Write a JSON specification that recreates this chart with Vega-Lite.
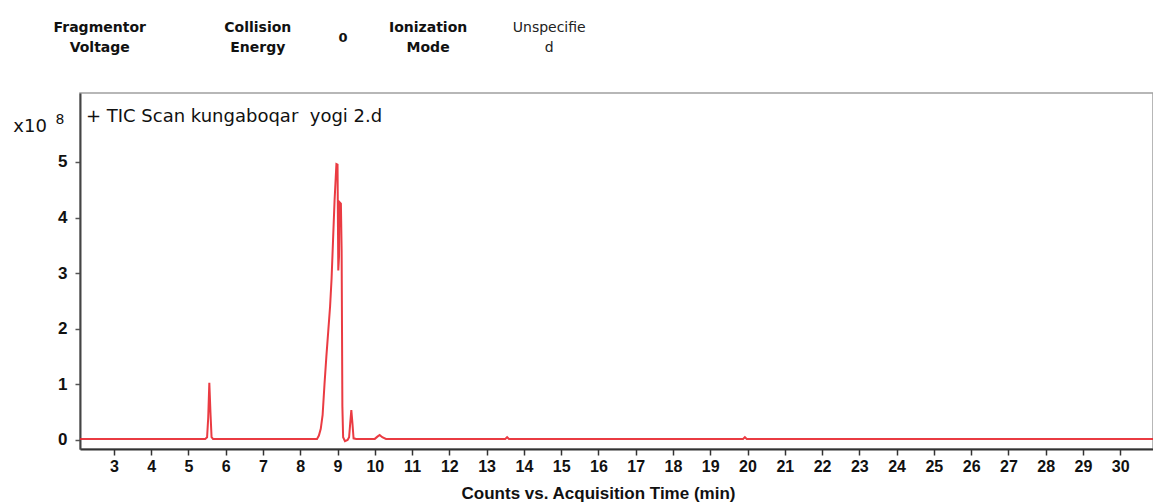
{
  "$schema": "https://vega.github.io/schema/vega-lite/v6.json",
  "width": 1073,
  "height": 356,
  "autosize": {"type": "none"},
  "padding": {"left": 80, "top": 93, "right": 0, "bottom": 54},
  "background": "white",
  "config": {
    "view": {"stroke": "#a0a0a0", "strokeWidth": 1.5},
    "text": {"font": "Liberation Sans"}
  },
  "data": {"values": [
    {"t": 2.09, "v": 0.02}, {"t": 3, "v": 0.02}, {"t": 4, "v": 0.02}, {"t": 5, "v": 0.02},
    {"t": 5.45, "v": 0.02}, {"t": 5.5, "v": 0.05}, {"t": 5.53, "v": 0.4}, {"t": 5.56, "v": 1.03},
    {"t": 5.59, "v": 0.5}, {"t": 5.62, "v": 0.05}, {"t": 5.66, "v": 0.02},
    {"t": 6, "v": 0.02}, {"t": 7, "v": 0.02}, {"t": 8, "v": 0.02},
    {"t": 8.45, "v": 0.02}, {"t": 8.5, "v": 0.08}, {"t": 8.55, "v": 0.2}, {"t": 8.6, "v": 0.45},
    {"t": 8.65, "v": 1.0}, {"t": 8.7, "v": 1.5}, {"t": 8.75, "v": 1.95}, {"t": 8.8, "v": 2.4},
    {"t": 8.84, "v": 2.9}, {"t": 8.88, "v": 3.6}, {"t": 8.92, "v": 4.3}, {"t": 8.95, "v": 4.7},
    {"t": 8.97, "v": 4.96}, {"t": 9.0, "v": 4.95}, {"t": 9.02, "v": 3.05}, {"t": 9.04, "v": 3.3},
    {"t": 9.05, "v": 4.28}, {"t": 9.09, "v": 4.25}, {"t": 9.11, "v": 3.4}, {"t": 9.13, "v": 0.6},
    {"t": 9.15, "v": 0.05}, {"t": 9.2, "v": -0.02}, {"t": 9.27, "v": 0.0}, {"t": 9.31, "v": 0.05},
    {"t": 9.34, "v": 0.3}, {"t": 9.37, "v": 0.54}, {"t": 9.4, "v": 0.3}, {"t": 9.43, "v": 0.03},
    {"t": 9.5, "v": 0.02}, {"t": 10.0, "v": 0.02}, {"t": 10.07, "v": 0.06}, {"t": 10.13, "v": 0.09},
    {"t": 10.2, "v": 0.05}, {"t": 10.3, "v": 0.02}, {"t": 11, "v": 0.02}, {"t": 12, "v": 0.02},
    {"t": 13, "v": 0.02}, {"t": 13.5, "v": 0.02}, {"t": 13.55, "v": 0.05}, {"t": 13.6, "v": 0.02},
    {"t": 14, "v": 0.02}, {"t": 15, "v": 0.02}, {"t": 16, "v": 0.02}, {"t": 17, "v": 0.02},
    {"t": 18, "v": 0.02}, {"t": 19, "v": 0.02}, {"t": 19.88, "v": 0.02}, {"t": 19.93, "v": 0.05},
    {"t": 19.98, "v": 0.02}, {"t": 21, "v": 0.02}, {"t": 22, "v": 0.02}, {"t": 23, "v": 0.02},
    {"t": 24, "v": 0.02}, {"t": 25, "v": 0.02}, {"t": 26, "v": 0.02}, {"t": 27, "v": 0.02},
    {"t": 28, "v": 0.02}, {"t": 29, "v": 0.02}, {"t": 30, "v": 0.02}, {"t": 30.88, "v": 0.02}
  ]},
  "layer": [
    {
      "mark": {"type": "line", "color": "#e8262e", "strokeWidth": 2, "opacity": 0.9, "interpolate": "linear"},
      "encoding": {
        "x": {
          "field": "t", "type": "quantitative",
          "scale": {"domain": [2.09, 30.88], "nice": false, "zero": false},
          "axis": {
            "values": [3,4,5,6,7,8,9,10,11,12,13,14,15,16,17,18,19,20,21,22,23,24,25,26,27,28,29,30],
            "tickCount": 40, "format": "d",
            "title": "Counts vs. Acquisition Time (min)",
            "titleFont": "Liberation Sans", "titleFontSize": 17, "titleFontWeight": "bold", "titleColor": "#111",
            "titleX": 518, "titleY": 44, "titleAnchor": "middle", "titleBaseline": "middle",
            "labelFont": "Liberation Sans", "labelFontSize": 16, "labelFontWeight": "bold", "labelColor": "#111",
            "labelPadding": 3, "tickSize": 6, "tickColor": "#333", "tickWidth": 1.5,
            "domainColor": "#333", "domainWidth": 2, "grid": false, "labelFlush": false, "labelOverlap": false
          }
        },
        "y": {
          "field": "v", "type": "quantitative",
          "scale": {"domain": [-0.162, 6.24], "nice": false, "zero": false},
          "axis": {
            "values": [0,1,2,3,4,5], "tickCount": 10, "format": "d", "title": null,
            "labelFont": "Liberation Sans", "labelFontSize": 17, "labelFontWeight": "bold", "labelColor": "#111",
            "labelPadding": 8, "tickSize": 5, "tickColor": "#555", "tickWidth": 1.5,
            "domainColor": "#444", "domainWidth": 2, "grid": false
          }
        }
      }
    },
    {
      "data": {"values": [{}]},
      "mark": {"type": "text", "align": "left", "baseline": "middle", "fontSize": 18, "font": "DejaVu Sans", "color": "#111", "text": "+ TIC Scan kungaboqar\u00a0 yogi 2.d"},
      "encoding": {"x": {"datum": 2.25}, "y": {"datum": 5.81}}
    },
    {
      "data": {"values": [{}]},
      "mark": {"type": "text", "align": "center", "baseline": "middle", "fontSize": 18, "font": "DejaVu Sans", "color": "#111", "text": "x10", "clip": false},
      "encoding": {"x": {"datum": 0.75}, "y": {"datum": 5.63}}
    },
    {
      "data": {"values": [{}]},
      "mark": {"type": "text", "align": "center", "baseline": "middle", "fontSize": 14, "font": "DejaVu Sans", "color": "#111", "text": "8", "clip": false},
      "encoding": {"x": {"datum": 1.55}, "y": {"datum": 5.76}}
    },
    {
      "data": {"values": [{}]},
      "mark": {"type": "text", "align": "center", "baseline": "middle", "fontSize": 14, "fontWeight": "bold", "font": "DejaVu Sans", "color": "#111", "lineHeight": 20, "text": ["Fragmentor", "Voltage"], "clip": false},
      "encoding": {"x": {"datum": 2.62}, "y": {"datum": 7.41}}
    },
    {
      "data": {"values": [{}]},
      "mark": {"type": "text", "align": "center", "baseline": "middle", "fontSize": 14, "fontWeight": "bold", "font": "DejaVu Sans", "color": "#111", "lineHeight": 20, "text": ["Collision", "Energy"], "clip": false},
      "encoding": {"x": {"datum": 6.86}, "y": {"datum": 7.41}}
    },
    {
      "data": {"values": [{}]},
      "mark": {"type": "text", "align": "center", "baseline": "middle", "fontSize": 13, "fontWeight": "bold", "font": "DejaVu Sans", "color": "#111", "text": "0", "clip": false},
      "encoding": {"x": {"datum": 9.15}, "y": {"datum": 7.23}}
    },
    {
      "data": {"values": [{}]},
      "mark": {"type": "text", "align": "center", "baseline": "middle", "fontSize": 14, "fontWeight": "bold", "font": "DejaVu Sans", "color": "#111", "lineHeight": 20, "text": ["Ionization", "Mode"], "clip": false},
      "encoding": {"x": {"datum": 11.43}, "y": {"datum": 7.41}}
    },
    {
      "data": {"values": [{}]},
      "mark": {"type": "text", "align": "center", "baseline": "middle", "fontSize": 14, "font": "DejaVu Sans", "color": "#222", "lineHeight": 20, "text": ["Unspecifie", "d"], "clip": false},
      "encoding": {"x": {"datum": 14.68}, "y": {"datum": 7.41}}
    }
  ]
}
